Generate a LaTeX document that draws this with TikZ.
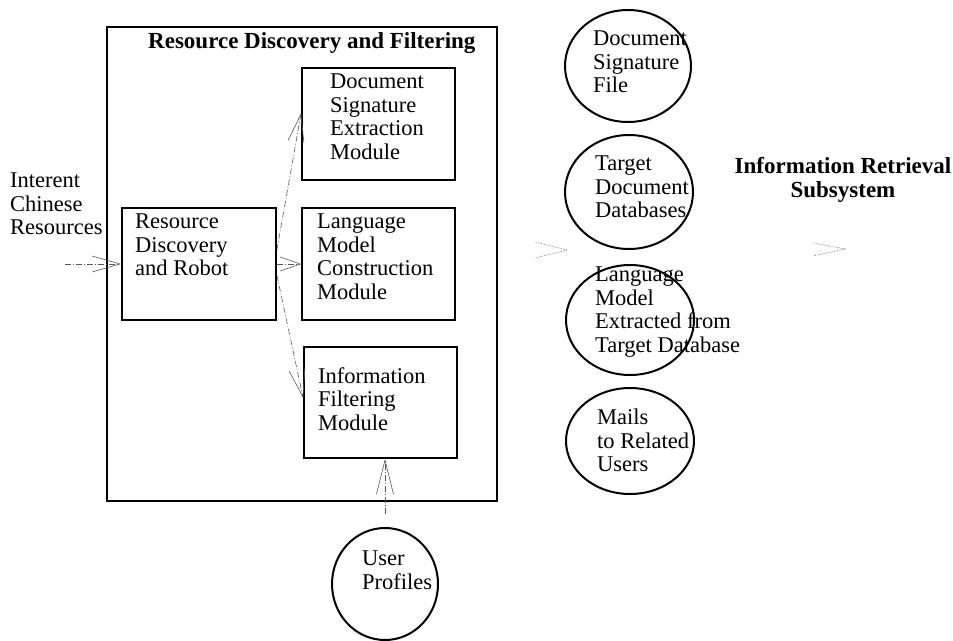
\documentclass[tikz,border=0pt]{standalone}
\usepackage{fontspec}
\setmainfont{Liberation Serif}
\usetikzlibrary{arrows.meta,shapes.geometric}
\begin{document}
\begin{tikzpicture}[x=1pt,y=-1pt,
  box/.style={draw,line width=1.7pt,inner sep=0pt},
  txt/.style={font=\fontsize{22.5}{23.5}\selectfont,align=left,inner sep=0pt,anchor=north west},
  ttl/.style={font=\fontsize{23}{24}\selectfont\bfseries,inner sep=0pt},
  oval/.style={draw,ellipse,line width=2pt,inner sep=0pt},
  flow/.style={draw=black!65,line width=0.6pt,dash pattern=on 6pt off 2pt on 1pt off 2pt},
  tip/.style={-{Straight Barb[length=28pt,width=16pt,line width=0.6pt]}},
  shorttip/.style={-{Straight Barb[length=20pt,width=14pt,line width=0.6pt]}},
  vee/.style={draw=black!65,line width=0.6pt,densely dotted}
]
\useasboundingbox (0,0) rectangle (953,640);

% outer frame
\node[box,minimum width=390pt,minimum height=474pt] (outer) at (302,264) {};
\node[ttl,anchor=north west] (ttl1) at (148,32) {Resource Discovery and Filtering};

% boxes
\node[box,minimum width=154pt,minimum height=112pt] (robot) at (199,264) {};
\node[txt] (robottxt) at (135,214) {Resource\\Discovery\\and Robot};
\node[box,minimum width=153pt,minimum height=112pt] (dse) at (378.5,124) {};
\node[txt] (dsetxt) at (330,74) {Document\\Signature\\Extraction\\Module};
\node[box,minimum width=153pt,minimum height=112pt] (lm) at (378.5,264) {};
\node[txt] (lmtxt) at (317,214) {Language\\Model\\Construction\\Module};
\node[box,minimum width=153pt,minimum height=111pt] (if) at (380.5,402.5) {};
\node[txt] (iftxt) at (318,367) {Information\\Filtering\\Module};

% input text
\node[txt] (inet) at (10,173) {Interent\\Chinese\\Resources};
\coordinate (src) at (65,264);

% ellipses
\node[oval,minimum width=126pt,minimum height=112pt] (dsf) at (628,66) {};
\node[txt] (dsftxt) at (593,31) {Document\\Signature\\File};
\node[oval,minimum width=128pt,minimum height=114pt] (tdd) at (629,192) {};
\node[txt] (tddtxt) at (595,156) {Target\\Document\\Databases};
\node[oval,minimum width=128pt,minimum height=110pt] (lme) at (630,320) {};
\node[txt] (lmetxt) at (595,267) {Language\\Model\\Extracted from\\Target Database};
\node[oval,minimum width=128pt,minimum height=106pt] (mails) at (630,441) {};
\node[txt] (mailstxt) at (597,409) {Mails\\to Related\\Users};
\node[oval,minimum width=106pt,minimum height=112pt] (user) at (385,584) {};
\node[txt] (usertxt) at (362,551) {User\\Profiles};

% subsystem title
\node[ttl,align=center,anchor=north] (irs) at (843,157) {Information Retrieval\\Subsystem};

% connectors
\draw[flow,tip] (src) -- (robot.west);
\draw[flow,tip] ([yshift=14pt]robot.east) -- ([yshift=11pt]dse.west);
\draw[flow,shorttip] (robot.east) -- (lm.west);
\draw[flow,tip] ([yshift=-11pt]robot.east) -- ([yshift=4.5pt]if.west);
\draw[flow,-{Straight Barb[length=34pt,width=17pt,line width=0.6pt]},shorten <=13pt] (user.north) -- (user.north |- if.south);

% floating arrowheads
\coordinate (m1) at (535,242);
\coordinate (mt) at (567,250);
\coordinate (m2) at (535,258);
\draw[vee] (m1) -- (mt) -- (m2);
\coordinate (r1) at (813,243);
\coordinate (rt) at (845,249);
\coordinate (r2) at (813,256);
\draw[vee] (r1) -- (rt) -- (r2);
\end{tikzpicture}
\end{document}
